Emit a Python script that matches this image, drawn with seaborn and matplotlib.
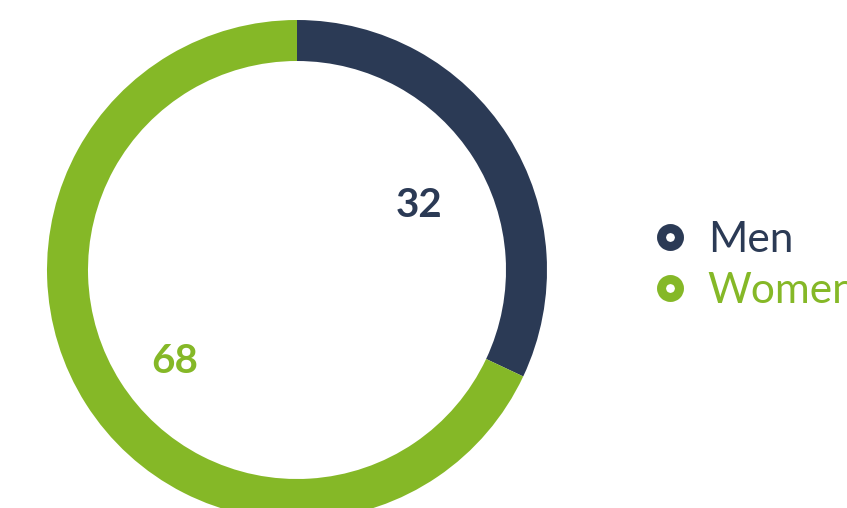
import seaborn as sns
import matplotlib.pyplot as plt
from matplotlib.lines import Line2D
from matplotlib.transforms import ScaledTranslation

# Share of respondents by gender
groups = ["Men", "Women"]
shares = [32, 68]
colors = ["#2B3A55", "#85B827"]

sns.set_style("white")
plt.rcParams['font.family'] = ['Lato', 'DejaVu Sans']

fig = plt.figure(figsize=(8.47, 5.08), dpi=100)
ax = fig.add_axes([0, 0, 1, 1])

wedges, _, autotexts = ax.pie(
    shares, colors=colors, startangle=90, counterclock=False,
    center=(297, 238), radius=250, frame=True,
    wedgeprops=dict(width=41, linewidth=0),
    autopct=lambda p: f"{p:.0f}", pctdistance=0.58,
)
ax.set_xlim(0, 847)
ax.set_ylim(0, 508)
ax.set_aspect('equal')
ax.axis('off')

# value labels, small upward nudge
nudge = ScaledTranslation(0, 0.05, fig.dpi_scale_trans)
for t, c in zip(autotexts, colors):
    t.set_color(c)
    t.set_fontsize(29)
    t.set_fontweight('bold')
    t.set_va('top')
    t.set_transform(t.get_transform() + nudge)

# Legend with ring markers
handles = [Line2D([], [], linestyle='none', marker='o', markersize=12.9,
                  markerfacecolor='white', markeredgecolor=c, markeredgewidth=6.5)
           for c in colors]
leg = ax.legend(handles, groups, loc='center left', bbox_to_anchor=(0.767, 0.478),
                frameon=False, handletextpad=0.42, labelspacing=0.3,
                handlelength=0.95, borderpad=0, borderaxespad=0,
                prop={'weight': 'normal', 'size': 30.5})
for txt, c in zip(leg.get_texts(), colors):
    txt.set_color(c)

fig.savefig("out.png", dpi=100)
